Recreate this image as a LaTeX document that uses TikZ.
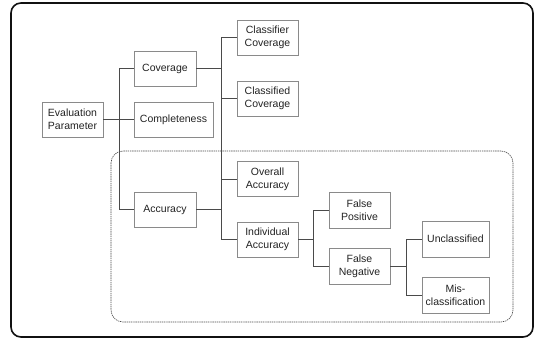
\documentclass[tikz,border=0pt]{standalone}
\usepackage{fontspec}
\setmainfont{Liberation Sans}
\usetikzlibrary{positioning,calc}
\definecolor{Frame}{HTML}{111111}
\definecolor{Edge}{HTML}{8A8A8A}
\definecolor{Wire}{HTML}{4A4A4A}
\definecolor{Ink}{HTML}{222222}

\begin{document}
\begin{tikzpicture}[x=1pt,y=-1pt,
    box/.style={draw=Edge,line width=0.8pt,minimum height=35pt,inner sep=1pt,
      font=\fontsize{10.5}{12.6}\selectfont,text=Ink,align=center},
    link/.style={draw=Wire,line width=0.7pt}
  ]
    \useasboundingbox (0,0) rectangle (536,339);
    \draw[Frame,line width=1.6pt,rounded corners=10pt] (11,3) rectangle (533,337);
    \draw[Wire,line width=0.6pt,dash pattern=on 1.4pt off 0.8pt,rounded corners=12pt]
      (111,151) rectangle (513,322);
    % first level
    \node[box,minimum width=61pt] (eval) at (72.5,119.5) {Evaluation\\Parameter};
    \node[box,minimum width=79pt] (compl) at (173.5,119.5) {Completeness};
    \node[box,minimum width=62pt] (cover) at (165,68.5) {Coverage};
    \node[box,minimum width=62pt] (accur) at (165,209.5) {Accuracy};
    % second level
    \node[box,minimum width=61pt] (clfcov) at (267.5,37.5) {Classifier\\Coverage};
    \node[box,minimum width=61pt] (cldcov) at (267.5,98.5) {Classified\\Coverage};
    \node[box,minimum width=61pt] (allacc) at (267.5,179) {Overall\\Accuracy};
    \node[box,minimum width=61pt] (indacc) at (267.5,239.5) {Individual\\Accuracy};
    % third level
    \node[box,minimum width=61pt,minimum height=36pt] (fpos) at (359.5,210) {False\\Positive};
    \node[box,minimum width=61pt,minimum height=36pt] (fneg) at (359.5,266) {False\\Negative};
    % fourth level
    \node[box,minimum width=67pt,minimum height=36pt] (uncl) at (455.5,239) {Unclassified};
    \node[box,minimum width=67pt,minimum height=36pt] (miscl) at (455.5,295) {Mis-\\classification};
    \coordinate (j1) at (119,0);
    \coordinate (j2) at (221,0);
    \coordinate (j3) at (313,0);
    \coordinate (j4) at (406,0);
    \draw[link] (eval.east) -- (compl.west);
    \draw[link] (cover.west) -| (j1 |- accur.west) -- (accur.west);
    \draw[link] (clfcov.west) -| (j2 |- indacc.west) -- (indacc.west);
    \draw[link] (cover.east) -- (cover.east -| j2);
    \draw[link] (cldcov.west) -- (cldcov.west -| j2);
    \draw[link] (allacc.west) -- (allacc.west -| j2);
    \draw[link] (accur.east) -- (accur.east -| j2);
    \draw[link] (fpos.west) -| (j3 |- fneg.west) -- (fneg.west);
    \draw[link] (indacc.east) -- (indacc.east -| j3);
    \draw[link] (uncl.west) -| (j4 |- miscl.west) -- (miscl.west);
    \draw[link] (fneg.east) -- (fneg.east -| j4);
  \end{tikzpicture}
\end{document}
